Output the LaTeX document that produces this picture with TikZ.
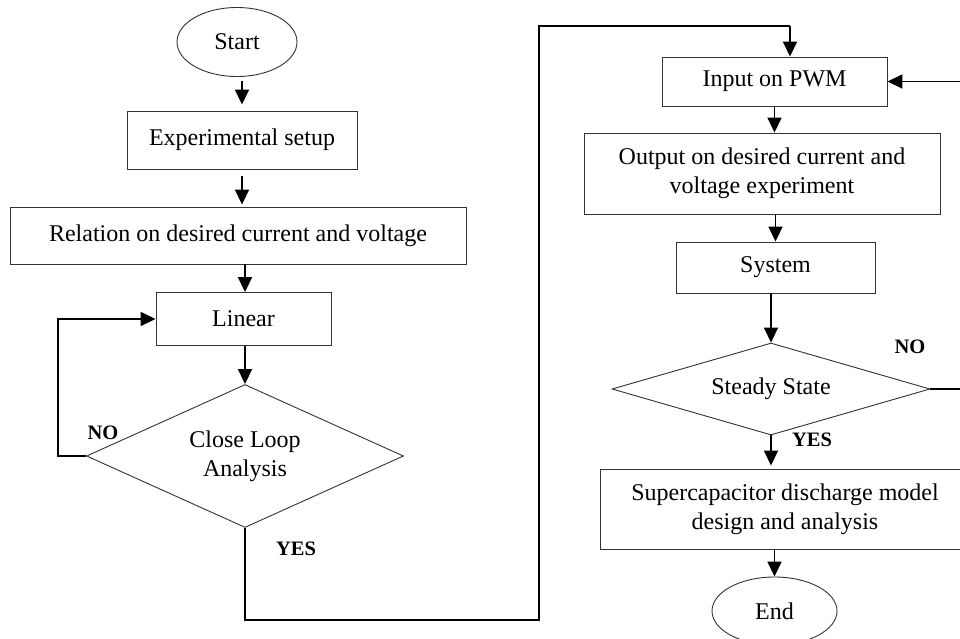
\documentclass[tikz,border=0pt]{standalone}
\usepackage{fontspec}
\setmainfont{Liberation Serif}
\usetikzlibrary{shapes.geometric,arrows.meta}
\tikzset{
  base/.style={draw=black!80, line width=0.9pt, inner sep=0pt, align=center,
    font=\fontsize{24}{29}\selectfont},
  box/.style={base, rectangle},
  term/.style={base, ellipse},
  decide/.style={base, diamond},
  arr/.style={line width=1.7pt, -{Triangle[length=15pt,width=14pt]}},
  lin/.style={line width=1.7pt},
  lbl/.style={inner sep=0pt, font=\fontsize{20.5}{24}\selectfont\bfseries}
}
\begin{document}
\begin{tikzpicture}[x=1pt,y=-1pt]
\useasboundingbox (0,0) rectangle (960,638);
\clip (0,0) rectangle (960,638);
\fill[white] (0,0) rectangle (960,638);
% left column
\node[term, minimum width=120pt, minimum height=69pt] (start) at (237,42) {Start};
\node[box, minimum width=230pt, minimum height=58pt] (exp) at (242,140) {Experimental setup};
\node[box, minimum width=456pt, minimum height=57pt] (rel) at (238,235.5) {Relation on desired current and voltage};
\node[box, minimum width=175pt, minimum height=53pt] (lin) at (243.5,319) {Linear};
\node[decide, minimum width=317pt, minimum height=143pt, aspect=2.2] (cl) at (245,456) {Close Loop\\Analysis};
% right column
\node[box, minimum width=225pt, minimum height=49pt] (inp) at (774.5,81.5) {Input on PWM};
\node[box, minimum width=356pt, minimum height=81pt] (out) at (762,173.5) {Output on desired current and\\voltage experiment};
\node[box, minimum width=199pt, minimum height=51pt] (sys) at (775.5,267.5) {System};
\node[decide, minimum width=318pt, minimum height=92pt, aspect=3.4] (ss) at (771,389) {Steady State};
\node[box, minimum width=370pt, minimum height=80pt] (sup) at (785,509) {Supercapacitor discharge model\\design and analysis};
\node[term, minimum width=125pt, minimum height=68pt] (end) at (774.5,611) {End};
% labels
\node[lbl] (no1) at (103,433) {NO};
\node[lbl] (yes1) at (296,549) {YES};
\node[lbl] (no2) at (910,347) {NO};
\node[lbl] (yes2) at (812,440) {YES};
% coordinates
\coordinate (c1) at (539,620);
\coordinate (c2) at (790,26);
% connectors left
\draw[arr, shorten <=4pt, shorten >=6pt] (exp.north |- start.south) -- (exp.north);
\draw[arr, shorten <=7pt, shorten >=2pt] (exp.south) -- (exp.south |- rel.north);
\draw[arr] (cl.north |- rel.south) -- (cl.north |- lin.north);
\draw[arr] (cl.north |- lin.south) -- (cl.north);
\draw[arr] (cl.west) -- ++(-28,0) |- (lin.west);
\draw[lin] (cl.south) |- (c1) |- (c2);
\draw[arr] (c2) -- (c2 |- inp.north);
% connectors right
\draw[arr] (inp.south) -- (inp.south |- out.north);
\draw[arr] (sys.north |- out.south) -- (sys.north);
\draw[arr] (ss.north |- sys.south) -- (ss.north);
\draw[arr, shorten >=3pt] (ss.south) -- (ss.south |- sup.north);
\draw[arr] (end.north |- sup.south) -- (end.north);
\draw[arr] (ss.east) -- ++(45,0) |- (inp.east);
\end{tikzpicture}
\end{document}
